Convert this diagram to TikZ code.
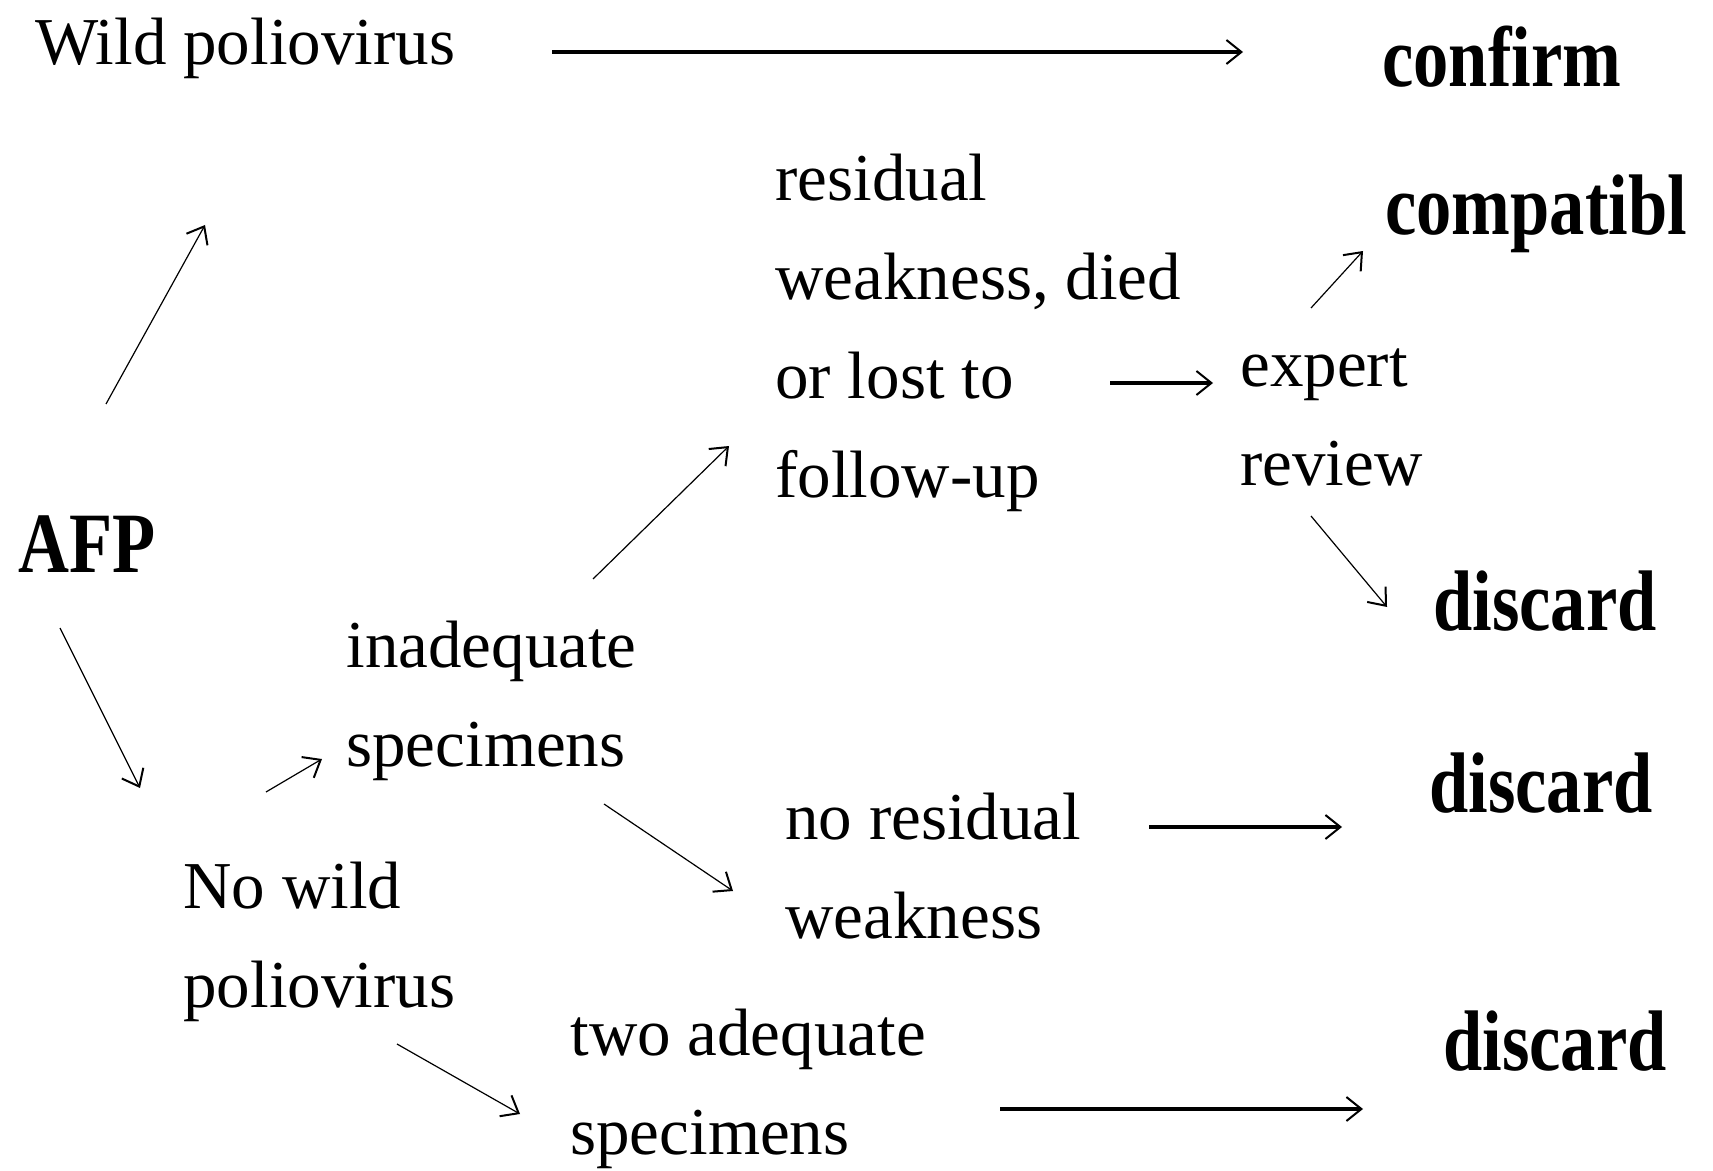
\documentclass[tikz,border=0pt]{standalone}
\usepackage{fontspec}
\setmainfont{Liberation Serif}
\newfontfamily\headfont[FakeStretch=0.82]{Liberation Serif}
\usetikzlibrary{arrows.meta}

\begin{document}
\begin{tikzpicture}[
  x=0.5pt,y=-0.5pt,
  txt/.style={anchor=base west,inner sep=0pt,align=left,font=\fontsize{33.5}{49.5}\selectfont},
  res/.style={anchor=base west,inner sep=0pt,font=\headfont\bfseries\fontsize{43}{50}\selectfont},
  arr/.style={-{Straight Barb[length=7.5pt,width=12pt,line width=1pt 0]},line width=0.6pt},
  harr/.style={arr,line width=1.9pt}
]
\useasboundingbox (0,0) rectangle (1713,1171);

% Case classification texts (multi-line nodes sit on their last line)
\node[txt] (wild) at (35,65) {Wild poliovirus};
\node[res] (confirm) at (1382,87) {confirm};
\node[res] (afp) at (18,572) {AFP};
\node[txt] (nowild) at (183,1007) {No wild\\poliovirus};
\node[txt] (inad) at (346,766) {inadequate\\specimens};
\node[txt] (resid) at (775,497) {residual\\weakness, died\\or lost to\\follow-up};
\node[txt] (expert) at (1240,486) {expert\\review};
\node[res] (compat) at (1385,235) {compatibl};
\node[res] (disc1) at (1433,630) {discard};
\node[txt] (nores) at (785,938) {no residual\\weakness};
\node[res] (disc2) at (1429,812) {discard};
\node[txt] (twoad) at (570,1154) {two adequate\\specimens};
\node[res] (disc3) at (1443,1070) {discard};

% Arrows
\draw[harr] ([shift={(517,-13)}]wild.base west) -- ([shift={(-139,-35)}]confirm.base west);
\draw[arr] ([shift={(88,-168)}]afp.base west) -- ([shift={(170,160)}]wild.base west);
\draw[arr] ([shift={(42,56)}]afp.base west) -- ([shift={(-43,-219)}]nowild.base west);
\draw[arr] ([shift={(83,-215)}]nowild.base west) -- ([shift={(-24,-7)}]inad.base west);
\draw[arr] ([shift={(247,-187)}]inad.base west) -- ([shift={(-46,-51)}]resid.base west);
\draw[arr] ([shift={(258,38)}]inad.base west) -- ([shift={(-52,-47)}]nores.base west);
\draw[arr] ([shift={(214,37)}]nowild.base west) -- ([shift={(-50,-40)}]twoad.base west);
\draw[harr] ([shift={(335,-114)}]resid.base west) -- ([shift={(-27,-103)}]expert.base west);
\draw[arr] ([shift={(71,-178)}]expert.base west) -- ([shift={(-22,16)}]compat.base west);
\draw[arr] ([shift={(71,30)}]expert.base west) -- ([shift={(-46,-23)}]disc1.base west);
\draw[harr] ([shift={(364,-111)}]nores.base west) -- ([shift={(-87,15)}]disc2.base west);
\draw[harr] ([shift={(430,-45)}]twoad.base west) -- ([shift={(-80,39)}]disc3.base west);
\end{tikzpicture}
\end{document}
